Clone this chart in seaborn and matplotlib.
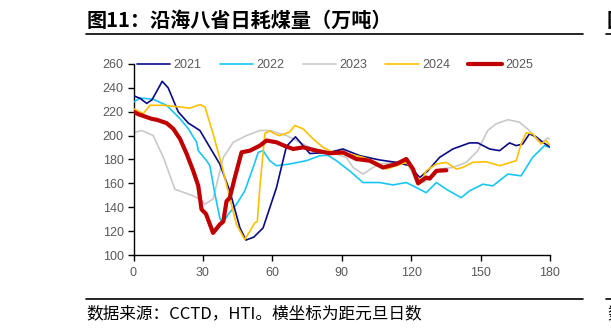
import matplotlib
matplotlib.use("Agg")
import matplotlib.pyplot as plt
from matplotlib.lines import Line2D
import numpy as np
import pandas as pd
import seaborn as sns

# ---------------- data (days since Jan 1, daily coal burn, 10k t) ----------------
years = ["2021", "2022", "2023", "2024", "2025"]

days_2021 = [0, 3, 5.7, 8, 12.4, 15, 19.3, 23.7, 28.7, 33, 37.3, 41.6, 46, 48.6, 52, 56,
             61.8, 66.1, 70, 76.2, 84.8, 90.5, 97.8, 106.4, 113.6, 119.3, 123.7, 127.2,
             132.3, 138, 145.2, 148.8, 153.9, 158.2, 162.5, 165.4, 168.2, 171.1, 174,
             176.9, 180]
vals_2021 = [233.5, 231, 227, 230, 245.5, 240, 220, 210.5, 204.3, 190.2, 176.2, 153.7,
             122.7, 112.5, 115, 122.7, 156.5, 191, 199, 185, 186, 188.8, 183.2, 179.6,
             177.6, 174.8, 164.9, 170.5, 181.8, 188.8, 193.9, 193.9, 188.8, 187.4, 193.9,
             191.6, 193, 201.5, 199, 194.4, 190.5]

days_2022 = [0, 2.8, 8.5, 14.3, 20.1, 23.7, 27.3, 28, 31.6, 33, 35.2, 37.3, 38.5, 40.9,
             44.5, 48.1, 51.7, 53.9, 56, 58.9, 61.8, 67.5, 74.7, 80.5, 84, 87.7, 93.4,
             99.2, 106.4, 112.1, 117.9, 120.8, 126.5, 130.9, 135.2, 141.6, 145.2, 151,
             155.3, 161.8, 167.5, 172.5, 177.6, 180]
vals_2022 = [228, 231.5, 230.5, 225.4, 214.2, 205.7, 194.4, 187.4, 179, 174.8, 150.9,
             131.1, 126, 134, 142.5, 153.7, 173.3, 186, 187.4, 179, 174.8, 176.2, 179,
             183.2, 183.5, 179, 170.5, 160.7, 160.7, 158.7, 160.7, 157.9, 152.2, 160.7,
             155.1, 148, 153.7, 159.3, 157.9, 167.8, 166.3, 181.8, 191.6, 190]

days_2023 = [0, 3.5, 8.5, 12.9, 17.9, 25.8, 28.7, 30.9, 34.4, 38.8, 43.1, 48.9, 54.6,
             58.9, 66.1, 71.9, 77.6, 84.8, 92, 94.9, 99.2, 103.5, 106.4, 113.6, 118.6,
             122.2, 125.1, 129, 132.3, 138, 143.8, 148.8, 153.1, 156.8, 161.8, 166.8,
             171.1, 174.7, 177, 179, 180]
vals_2023 = [202.5, 204.3, 200.1, 181.8, 155.1, 149.5, 146.7, 142.5, 147, 181.8, 194.4,
             200.1, 204.3, 204.3, 200.1, 194.4, 188.8, 186, 181.8, 173.3, 167.8, 173.3,
             176.2, 177.6, 176.2, 162.1, 160.7, 165, 172, 173.3, 177.6, 187.4, 204.3,
             210, 213.3, 211.3, 204.3, 195.9, 195, 198, 197]

days_2024 = [0, 4.2, 7.1, 12.9, 20.1, 24.4, 28.7, 30.9, 34.4, 38, 41.6, 44.5, 48.1, 50.3,
             52.4, 53.5, 54.6, 56.8, 58.9, 61.5, 63.2, 67.5, 69.7, 73.3, 77.6, 81.9,
             87.7, 93.4, 99.2, 105, 109.3, 113.6, 117.9, 122.2, 124.4, 126.5, 130.9,
             135.2, 139.5, 142.3, 146.6, 152.4, 158.2, 165.4, 167.5, 169.7, 172.5, 176.2,
             178.3, 180]
vals_2024 = [222.6, 218.4, 225.4, 225.4, 224, 223, 226, 224, 201.5, 176.2, 148, 125.6,
             113, 119.9, 126.9, 128, 156.5, 202, 204, 201, 200, 203, 208.5, 205.7, 197.3,
             190.2, 184.6, 184.6, 181.8, 177.6, 172, 174.8, 177.6, 166.3, 162.1, 170.5,
             176.2, 177.6, 172, 173.3, 177.6, 178.1, 174.8, 179, 193, 202.4, 201.5, 193,
             195.9, 191.6]

days_2025 = [0, 2, 5.7, 8, 10, 14.3, 17.2, 20.1, 23, 25.8, 28, 29.4, 31.3, 34.4, 37.3,
             38.8, 40.2, 41.6, 43.8, 46.7, 50.3, 54.6, 57.5, 61.8, 66.1, 69, 73.3, 79.1,
             84.8, 90.5, 96.3, 102.1, 107.8, 113.6, 117.9, 120.8, 123, 124.4, 126.5, 128,
             130.9, 135.2]
vals_2025 = [220, 218, 215.5, 214, 213.3, 210.5, 205.7, 197.3, 184.6, 170.5, 157.9, 138.2,
             134.5, 118.5, 125.6, 128, 145, 148, 164.9, 186, 187.4, 191.6, 195.9, 194.4,
             190.8, 188.8, 190.2, 187.4, 185.2, 186, 180.4, 179, 173.3, 176.2, 180.4, 172,
             160, 162.1, 164.9, 164, 170.5, 171]

series_days = [days_2021, days_2022, days_2023, days_2024, days_2025]
series_vals = [vals_2021, vals_2022, vals_2023, vals_2024, vals_2025]

x_ticks = [0, 30, 60, 90, 120, 150, 180]
y_ticks = [100, 120, 140, 160, 180, 200, 220, 240, 260]

title = "图11：沿海八省日耗煤量（万吨）"
source = "数据来源：CCTD，HTI。横坐标为距元旦日数"

# ---------------- style ----------------
colors = {"2021": "#0A0A86", "2022": "#19C6F3", "2023": "#C9C9C9",
          "2024": "#FFC000", "2025": "#C00000"}
widths = {"2021": 1.2, "2022": 1.2, "2023": 1.2, "2024": 1.2, "2025": 3.0}
zorders = {"2021": 4, "2022": 3, "2023": 2, "2024": 5, "2025": 6}

sns.set_theme(style="white")
plt.rcParams["font.family"] = ["Liberation Sans", "Noto Sans CJK SC", "DejaVu Sans"]

W, H = 611, 330
fig = plt.figure(figsize=(W / 100, H / 100), dpi=100)
ax = fig.add_axes([133.5 / W, 1 - 255 / H, (550 - 133.5) / W, (255 - 64) / H])

handles = []
for yr, d, v in zip(years, series_days, series_vals):
    df = pd.DataFrame({"day": d, "val": v})
    sns.lineplot(data=df, x="day", y="val", ax=ax, color=colors[yr],
                 linewidth=widths[yr], zorder=zorders[yr], legend=False,
                 solid_capstyle="round", solid_joinstyle="round")
    handles.append(Line2D([0], [0], color=colors[yr], linewidth=widths[yr],
                          solid_capstyle="round"))

ax.set_xlim(0, 180)
ax.set_ylim(100, 260)
ax.set_xticks(x_ticks)
ax.set_yticks(y_ticks)
ax.set_xlabel("")
ax.set_ylabel("")
for s in ["top", "right"]:
    ax.spines[s].set_visible(False)
for s in ["left", "bottom"]:
    ax.spines[s].set_color("black")
    ax.spines[s].set_linewidth(1.0)
ax.tick_params(axis="both", direction="out", length=4, width=1, color="black",
               labelsize=9, labelcolor="#595959", bottom=True, left=True)
ax.tick_params(axis="x", pad=5)
ax.tick_params(axis="y", pad=3)
ax.patch.set_alpha(0)

ax.legend(handles, years, loc="center left",
          bbox_to_anchor=(136.5 / W, 1 - 65.5 / H), bbox_transform=fig.transFigure,
          ncol=5, frameon=False, borderpad=0, borderaxespad=0,
          handlelength=2.65, handletextpad=0.3, columnspacing=1.45,
          fontsize=9, labelcolor="#595959")

# title, rules and source
cjk = ["Noto Sans CJK SC", "DejaVu Sans"]
fig.text(87 / W, 1 - 20.5 / H, title, fontsize=14.5, fontweight="bold",
         family=cjk, ha="left", va="center", color="black")
fig.add_artist(Line2D([86 / W, 583 / W], [1 - 34 / H] * 2, color="black", lw=1.2))
fig.add_artist(Line2D([86 / W, 583 / W], [1 - 298.7 / H] * 2, color="black", lw=1.2))
fig.text(86 / W, 1 - 314 / H, source, fontsize=12, family=cjk,
         ha="left", va="center", color="black")
# fragments of the neighbouring panel at the right edge
fig.add_artist(Line2D([606 / W, 1.0], [1 - 34 / H] * 2, color="black", lw=1.2))
fig.add_artist(Line2D([606 / W, 1.0], [1 - 298.7 / H] * 2, color="black", lw=1.2))
fig.text(607 / W, 1 - 20.5 / H, "图", fontsize=14.5, fontweight="bold",
         family=cjk, ha="left", va="center", color="black")
fig.text(607 / W, 1 - 314 / H, "数", fontsize=12, family=cjk,
         ha="left", va="center", color="black")

fig.savefig("out.png", dpi=100)
